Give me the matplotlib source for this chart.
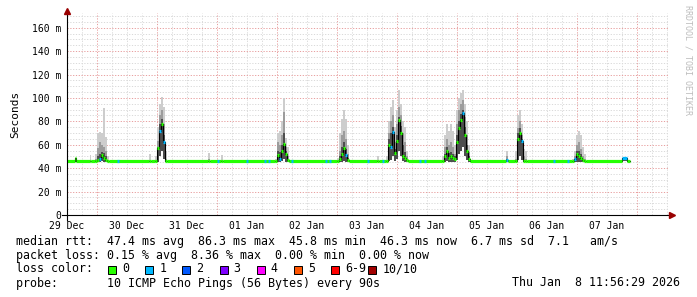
import numpy as np
import matplotlib.pyplot as plt

# hours since left edge of the graph (29 Dec 12:00); one row per rrd step shown
t = [0.0, 3.2, 3.6,
     9.2, 9.6,
     11.2, 12.0, 12.8, 13.6, 14.4, 15.2, 16.0, 16.8,
     32.8, 33.6,
     35.2, 36.0, 36.8, 37.6, 38.4, 39.2, 40.0,
     56.4, 57.2, 61.6, 62.4,
     83.2, 84.0, 84.8, 85.6, 86.4, 87.2, 88.0, 88.8,
     108.0, 108.8, 109.6, 110.4, 111.2, 112.0, 112.8,
     124.0, 124.8,
     127.6, 128.4, 129.2, 130.0, 130.8, 131.6, 132.4, 133.2, 134.0, 134.8, 135.6, 136.4,
     150.0, 150.8, 151.6, 152.4, 153.2, 154.0, 154.8, 155.6, 156.4, 157.2, 158.0, 158.8, 159.6, 160.4, 161.2,
     175.6, 176.4,
     179.2, 180.0, 180.8, 181.6, 182.4, 183.2, 184.0,
     202.0, 202.8, 203.6, 204.4, 205.2, 206.0, 206.8, 207.6,
     222.0, 224.0]
t_end = 225.2

# median rtt (ms)
med = [46, 48.5, 46,
       46, 46,
       46, 47, 48, 51, 49, 47, 46, 46,
       46, 46,
       46, 57, 72, 78, 62, 46, 46,
       46, 46, 46, 46,
       46, 51, 48, 55, 61, 52, 47, 46,
       46, 48, 52, 57, 51, 47, 46,
       46, 46,
       46, 60, 58, 71, 53, 63, 81, 70, 50, 49, 47, 46,
       46, 50, 55, 49, 50, 49, 48, 62, 74, 81, 87, 68, 55, 48, 46,
       47, 46,
       46, 65, 70, 63, 46, 46, 46,
       46, 48, 52, 50, 49, 47, 46, 46,
       48.5, 46]
# smoke: slowest ping, 8th ping, 6th ping, fastest ping (ms)
top = [46, 49, 46,
       51, 46,
       52, 70, 71, 70, 91, 67, 50, 46,
       52, 46,
       50, 75, 95, 101, 92, 55, 46,
       53, 46, 51, 46,
       48, 70, 72, 80, 100, 66, 58, 46,
       49, 70, 82, 90, 82, 60, 46,
       50, 46,
       50, 80, 92, 98, 75, 90, 107, 95, 80, 75, 55, 46,
       50, 68, 78, 72, 78, 72, 60, 90, 100, 104, 107, 95, 80, 60, 46,
       55, 46,
       55, 85, 90, 78, 56, 55, 46,
       48, 55, 68, 72, 68, 58, 52, 46,
       49, 46.5]
mid = [46, 48.5, 46,
       47, 46,
       48, 57, 62, 60, 58, 55, 47, 46,
       47, 46,
       47, 63, 85, 90, 78, 48, 46,
       48, 46, 47, 46,
       46.5, 62, 60, 68, 88, 58, 50, 46,
       47, 55, 68, 72, 65, 52, 46,
       47, 46,
       47, 70, 80, 85, 62, 78, 92, 85, 70, 62, 50, 46,
       47, 58, 65, 60, 62, 58, 52, 78, 90, 95, 98, 84, 68, 54, 46,
       50, 46,
       48, 74, 80, 68, 50, 48, 46,
       46.5, 50, 60, 62, 56, 50, 48, 46,
       48.5, 46]
dark = [46, 48.5, 46,
        46, 46,
        47, 50, 52, 54, 53, 50, 46, 46,
        46, 46,
        46, 58, 78, 82, 68, 47, 46,
        46, 46, 46, 46,
        46, 55, 54, 60, 70, 55, 48, 46,
        46, 50, 58, 62, 56, 49, 46,
        46, 46,
        46, 65, 70, 75, 56, 68, 84, 76, 60, 54, 48, 46,
        46, 52, 58, 53, 54, 52, 50, 68, 80, 86, 90, 75, 60, 50, 46,
        48, 46,
        47, 70, 74, 65, 47, 46, 46,
        46, 48, 55, 55, 52, 48, 47, 46,
        48.5, 46]
low = [46, 46, 46,
       46, 46,
       45, 45, 45, 46, 45, 45, 45, 46,
       46, 46,
       45, 45, 50, 55, 48, 45, 46,
       46, 46, 46, 46,
       45, 45, 45, 46, 48, 45, 45, 46,
       45, 45, 45, 46, 45, 45, 46,
       46, 46,
       45, 46, 47, 50, 46, 48, 55, 50, 46, 45, 45, 46,
       45, 45, 46, 45, 45, 45, 45, 47, 52, 55, 58, 50, 47, 45, 46,
       45, 46,
       45, 47, 50, 47, 45, 45, 46,
       45, 45, 45, 45, 45, 45, 45, 46,
       46, 46]
# lost pings out of 10
loss = [0, 0, 0,
        0, 0,
        0, 0, 1, 0, 0, 0, 0, 0,
        0, 0,
        0, 0, 1, 0, 1, 0, 0,
        0, 0, 0, 0,
        0, 0, 1, 0, 0, 0, 0, 0,
        0, 0, 0, 0, 1, 0, 0,
        0, 0,
        0, 0, 1, 1, 0, 0, 0, 0, 0, 0, 0, 0,
        0, 0, 0, 0, 0, 0, 0, 0, 0, 0, 1, 0, 0, 0, 0,
        1, 0,
        0, 0, 0, 1, 0, 0, 0,
        0, 1, 0, 0, 0, 0, 0, 0,
        1, 0]
# single steps with 1 lost ping on the flat part
blue_steps = [20.0, 59.9, 71.6, 78.8, 80.4, 89.6, 103.2, 104.9, 119.9, 125.9,
              140.6, 142.8, 194.4, 199.9]

day_labels = ['29 Dec', '30 Dec', '31 Dec', '01 Jan', '02 Jan',
              '03 Jan', '04 Jan', '05 Jan', '06 Jan', '07 Jan']
y_ticks = [0, 20, 40, 60, 80, 100, 120, 140, 160]
y_labels = ['0', '20 m', '40 m', '60 m', '80 m', '100 m', '120 m', '140 m', '160 m']

loss_labels = ['0', '1', '2', '3', '4', '5', '6-9', '10/10']
loss_colors = ['#26ff00', '#00b8ff', '#0059ff', '#7e00ff', '#ff00ff', '#ff5500', '#ff0000', '#a10000']

rtt_line = 'median rtt:  47.4 ms avg  86.3 ms max  45.8 ms min  46.3 ms now  6.7 ms sd  7.1   am/s'
loss_line = 'packet loss: 0.15 % avg  8.36 % max  0.00 % min  0.00 % now'
probe_line = 'probe:       10 ICMP Echo Pings (56 Bytes) every 90s'
date_text = 'Thu Jan  8 11:56:29 2026'

W, H = 697, 297
mono = 'DejaVu Sans Mono'

fig = plt.figure(figsize=(W / 100, H / 100), dpi=100)
ax = fig.add_axes([67 / W, 82 / H, 601 / W, 202 / H])
ax.set_xlim(0, 240.4)
ax.set_ylim(0, 202 / 1.1706)

# grid
for h in np.arange(6, 241, 6):
    major = (h - 12) % 24 == 0
    ax.axvline(h, color='#e8a0a0' if major else '#dadada', lw=0.72,
               ls=(0, (1.2, 1.6)), zorder=0)
for v in range(5, 172, 5):
    major = v % 20 == 0
    ax.axhline(v, color='#e8a0a0' if major else '#dadada', lw=0.72,
               ls=(0, (1.2, 1.6)), zorder=0)

tt = np.append(t, t_end)
def ext(a):
    return np.append(a, a[-1])

ax.fill_between(tt, ext(low), ext(top), step='post', color='#cdcdcd', lw=0, zorder=1)
ax.fill_between(tt, ext(low), ext(mid), step='post', color='#9c9c9c', lw=0, zorder=2)
ax.fill_between(tt, ext(low), ext(dark), step='post', color='#4e4e4e', lw=0, zorder=3)
ax.step(tt, ext(med), where='post', color='black', lw=0.8, zorder=4)
ax.hlines(med, t, tt[1:], colors=[loss_colors[l] for l in loss], lw=2.3,
          capstyle='butt', zorder=5)
ax.hlines([46] * len(blue_steps), blue_steps, np.array(blue_steps) + 0.8,
          colors=loss_colors[1], lw=2.3, capstyle='butt', zorder=5)

for s in ax.spines.values():
    s.set_visible(False)
ax.plot([-2, 241.5], [0, 0], color='black', lw=0.8, clip_on=False, zorder=6)
ax.plot([0, 0], [-4, 173.5], color='black', lw=0.8, clip_on=False, zorder=6)
ax.plot([241.8], [0], marker='>', ms=4, color='#990000', clip_on=False, zorder=7)
ax.plot([0], [174.2], marker='^', ms=4, color='#990000', clip_on=False, zorder=7)

ax.set_xticks(np.arange(0, 217, 24), labels=day_labels)
ax.set_yticks(y_ticks, labels=y_labels)
ax.tick_params(length=0, labelsize=7, pad=4.3)
for lab in ax.get_xticklabels() + ax.get_yticklabels():
    lab.set_family(mono)
ax.set_ylabel('Seconds', family=mono, fontsize=8, labelpad=8)

fig.text(688 / W, 1 - 5 / H, 'RRDTOOL / TOBI OETIKER', rotation=270, ha='center',
         va='top', family=mono, fontsize=6, color='#bdbdbd')

def row(y):
    return 1 - y / H

fs = 8.4
fig.text(16 / W, row(241), rtt_line, family=mono, fontsize=fs, va='center')
fig.text(16 / W, row(255), loss_line, family=mono, fontsize=fs, va='center')
fig.text(16 / W, row(269), 'loss color:', family=mono, fontsize=fs, va='center')
for i, (lab, col) in enumerate(zip(loss_labels, loss_colors)):
    x0 = 108 + i * 37.2
    fig.add_artist(plt.Rectangle((x0 / W, row(273.5)), 8 / W, 8 / H, facecolor=col,
                                 edgecolor='black', lw=0.7, transform=fig.transFigure))
    fig.text((x0 + 14) / W, row(269), lab, family=mono, fontsize=fs, va='center')
fig.text(16 / W, row(283), probe_line, family=mono, fontsize=fs, va='center')
fig.text(680 / W, row(283), date_text, family=mono, fontsize=fs, va='center', ha='right')

fig.savefig('out.png', dpi=100)
